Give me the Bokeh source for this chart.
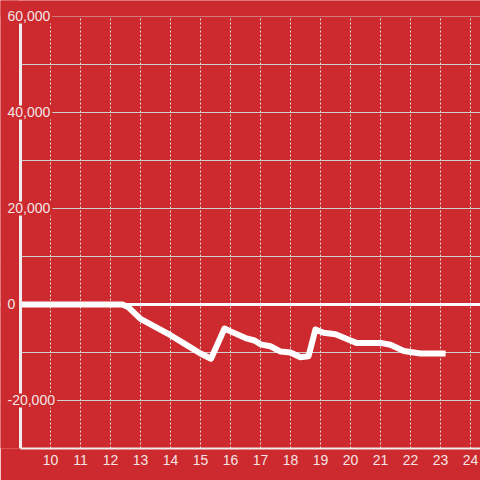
from bokeh.plotting import figure
from bokeh.models import FixedTicker, Span, Label, Range1d, BoxAnnotation
from bokeh.embed import file_html
from bokeh.resources import INLINE

# ---- data ----
hours = [9.0, 12.4, 12.6, 13.0, 14.0, 14.5, 15.0, 15.35, 15.8, 16.0, 16.5, 16.8,
         17.0, 17.33, 17.67, 18.0, 18.33, 18.6, 18.83, 19.1, 19.5, 20.0, 20.2,
         21.0, 21.33, 21.78, 22.33, 23.17]
values = [0, 0, -600, -3000, -6400, -8300, -10200, -11300, -5000, -5600, -7000, -7500,
          -8300, -8700, -9800, -10000, -11000, -10800, -5200, -5900, -6200, -7500, -8000,
          -8000, -8400, -9700, -10200, -10200]

x_ticks = list(range(10, 25))
y_grid_ticks = [-30000, -20000, -10000, 0, 10000, 20000, 30000, 40000, 50000, 60000]
y_label_values = [-20000, 0, 20000, 40000, 60000]
y_label_texts = ["-20,000", "0", "20,000", "40,000", "60,000"]
axis_start = 9          # where the x axis (and the data) begins
axis_top = 60000        # top of the y axis
x_min, x_max = 8.333, 24.333
y_min, y_max = -30000, 63333
zero_level = 0

BG = "#cd2a2f"
TXT = "#f4e4e4"
AXIS = "#eeeeee"

p = figure(width=480, height=480, output_backend="svg", toolbar_location=None,
           x_range=Range1d(x_min, x_max), y_range=Range1d(y_min, y_max),
           min_border_left=0, min_border_right=0, min_border_top=0, min_border_bottom=32)
p.background_fill_color = BG
p.border_fill_color = BG
p.outline_line_color = None

# x axis
p.xaxis.ticker = FixedTicker(ticks=x_ticks)
p.xaxis.bounds = (axis_start, x_max)
p.xaxis.axis_line_color = AXIS
p.xaxis.axis_line_width = 2
p.xaxis.major_tick_line_color = None
p.xaxis.minor_tick_line_color = None
p.xaxis.major_tick_out = 0
p.xaxis.major_label_standoff = 6
p.xaxis.major_label_text_color = TXT
p.xaxis.major_label_text_font = "Liberation Sans"
p.xaxis.major_label_text_font_size = "14px"

# y axis: hidden; its line and labels are drawn as annotations
p.yaxis.visible = False
p.ygrid.ticker = FixedTicker(ticks=y_grid_ticks)

# grids
p.xgrid.grid_line_color = "#dddddd"
p.xgrid.grid_line_dash = "2 2"
p.xgrid.grid_line_width = 1
p.ygrid.grid_line_color = "#cfcfcf"
p.ygrid.grid_line_width = 1

# data line
p.line(hours, values, line_color="white", line_width=6, line_join="round")

# zero line
p.add_layout(Span(location=zero_level, dimension="width", line_color="white", line_width=3))

# strip left of the y axis (hides the grid there)
p.add_layout(BoxAnnotation(right=axis_start, fill_color=BG, fill_alpha=1, line_color=None))

# y axis line
p.add_layout(Span(location=axis_start, dimension="height", line_color=AXIS, line_width=3))

# strip above the top of the axis
p.add_layout(BoxAnnotation(bottom=axis_top, fill_color=BG, fill_alpha=1, line_color=None))

# y labels
for v, t in zip(y_label_values, y_label_texts):
    p.add_layout(Label(x=5, y=v, x_units="screen", y_units="data", text=t,
                       text_align="left", text_baseline="middle",
                       text_color=TXT, text_font="Liberation Sans", text_font_size="14px",
                       background_fill_color=BG, padding=2))

open("out.html", "w").write(file_html(p, INLINE))
